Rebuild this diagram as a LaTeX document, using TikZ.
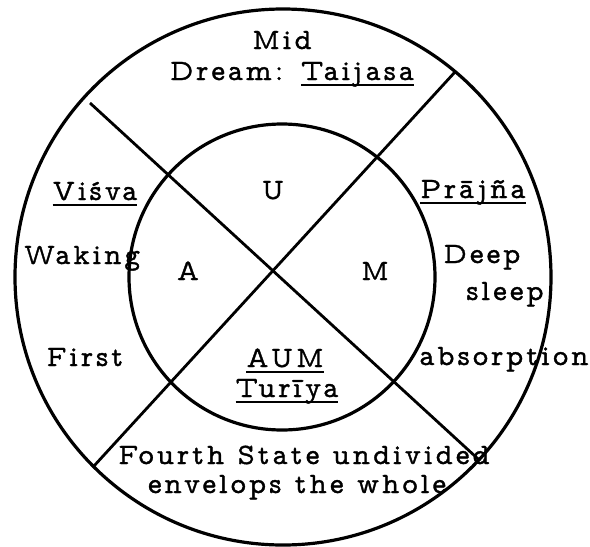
\documentclass[tikz,border=0pt]{standalone}
\usepackage{fontspec}
\setmainfont[LetterSpace=10,FakeBold=1.2]{Latin Modern Mono Prop}
\newcommand\ulword[1]{\setbox0=\hbox{#1}\rlap{\rule[-6pt]{\wd0}{1.6pt}}\box0}
\begin{document}
\begin{tikzpicture}[x=1pt,y=-1pt,
  ring/.style={circle, draw, line width=3.2pt, inner sep=0pt, outer sep=0pt},
  divider/.style={line width=2.8pt},
  lbl/.style={anchor=base, inner sep=0pt, font=\fontsize{29.5}{31}\selectfont}]
\useasboundingbox (0,0) rectangle (590,547);
\fill[white] (0,0) rectangle (590,547);
\node[ring, minimum size=536pt] (outer) at (283,277) {};
\node[ring, minimum size=306pt] (inner) at (282,277) {};
\coordinate (ulend) at (90,103);
\draw[divider] (ulend) -- (outer.317.3);
\draw[divider] (outer.225.6) -- (outer.50.3);
% top
\node[lbl] (mid) at (282,49) {Mid};
\node[lbl] (dream) at (292,80) {Dream: \ulword{Taijasa}};
% left
\node[lbl] (visva) at (95,200) {\ulword{Viśva}};
\node[lbl] (waking) at (82,264) {Waking};
\node[lbl] (first) at (85,366) {First};
% inner
\node[lbl] (u) at (273,199) {U};
\node[lbl] (a) at (188,280) {A};
\node[lbl] (m) at (375,280) {M};
\node[lbl] (aum) at (285,367) {\ulword{AUM}};
\node[lbl] (turiya) at (287,397) {\ulword{Turīya}};
% right
\node[lbl] (prajna) at (473,198) {\ulword{Prājña}};
\node[lbl] (deep) at (482,263) {Deep};
\node[lbl] (sleep) at (505,300) {sleep};
\node[lbl] (absorption) at (504,365) {absorption};
% bottom
\node[lbl] (fourth) at (304,464) {Fourth State undivided};
\node[lbl] (envelops) at (297,493) {envelops the whole};
\end{tikzpicture}
\end{document}
